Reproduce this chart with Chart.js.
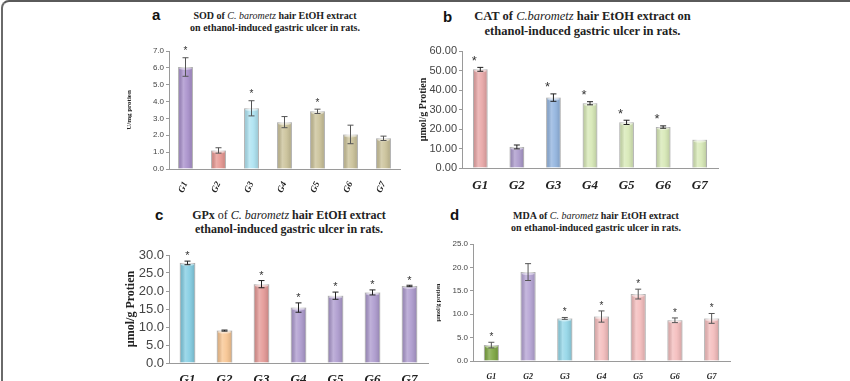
<!DOCTYPE html>
<html>
<head>
<meta charset="utf-8">
<script src="https://cdn.jsdelivr.net/npm/chart.js@4.4.0/dist/chart.umd.min.js"></script>
<style>
  html, body { margin: 0; padding: 0; background: #fff; }
  #page { position: relative; width: 850px; height: 381px; overflow: hidden; }
  #frame { position: absolute; left: 1px; top: 0; width: 900px; height: 420px;
           border-top: 2px solid #5a5a5a; border-left: 2px solid #6a6a6a; border-top-left-radius: 8px; }
  .panel { position: absolute; }
  .letter { position: absolute; font: bold 15px "Liberation Sans", Arial, sans-serif; color: #111; }
  .title { position: absolute; text-align: center; font-family: "Liberation Serif", "Times New Roman", serif;
           font-weight: bold; color: #222; white-space: nowrap; }
  .title i { font-weight: normal; }
  .title .n { font-weight: normal; }
</style>
</head>
<body>
<div id="page">
  <div id="frame"></div>

  <div class="letter" style="left:152px;top:6px;">a</div>
  <div class="title" style="left:180px;top:10px;width:190px;font-size:10px;line-height:12px;">
    SOD of <i>C. barometz</i> hair EtOH extract<br>on ethanol-induced gastric ulcer in rats.</div>
  <canvas id="chartA" class="panel" width="285" height="155" style="left:125px;top:40px;"></canvas>

  <div class="letter" style="left:443px;top:8px;">b</div>
  <div class="title" style="left:470px;top:9px;width:225px;font-size:12.5px;line-height:15px;">
    CAT of <i>C.barometz</i> hair EtOH extract on<br>ethanol-induced gastric ulcer in rats.</div>
  <canvas id="chartB" class="panel" width="306" height="150" style="left:417px;top:40px;"></canvas>

  <div class="letter" style="left:155px;top:206px;">c</div>
  <div class="title" style="left:180px;top:209px;width:218px;font-size:12px;line-height:13.5px;">
    GPx <span class="n">of</span> <i>C. barometz</i> hair EtOH extract<br>ethanol-induced gastric ulcer in rats.</div>
  <canvas id="chartC" class="panel" width="309" height="136" style="left:124px;top:245px;"></canvas>

  <div class="letter" style="left:450px;top:206px;">d</div>
  <div class="title" style="left:496px;top:210px;width:200px;font-size:10px;line-height:12px;">
    MDA of <i>C. barometz</i> hair EtOH extract<br>on ethanol-induced gastric ulcer in rats.</div>
  <canvas id="chartD" class="panel" width="300" height="147" style="left:435px;top:234px;"></canvas>
</div>

<script>
// groups on the x axis (same for all four panels)
const groups = ['G1', 'G2', 'G3', 'G4', 'G5', 'G6', 'G7'];

// a: SOD
const sodValues = [6.05, 1.10, 3.60, 2.78, 3.42, 2.05, 1.82];
const sodErrors = [0.55, 0.16, 0.45, 0.33, 0.13, 0.55, 0.13];
const sodStars = [true, false, true, false, true, false, false];

// b: CAT
const catValues = [50.6, 10.8, 36.1, 33.2, 23.4, 21.0, 14.5];
const catErrors = [1.0, 1.0, 1.9, 0.8, 1.1, 0.6, 0];
const catStars = [true, false, true, true, true, true, false];

// c: GPx
const gpxValues = [27.8, 9.0, 21.9, 15.4, 18.7, 19.6, 21.4];
const gpxErrors = [0.5, 0.15, 1.0, 1.3, 1.0, 0.7, 0.2];
const gpxStars = [true, false, true, true, true, true, true];

// d: MDA
const mdaValues = [3.4, 19.0, 9.1, 9.5, 14.3, 8.7, 9.1];
const mdaErrors = [0.6, 1.8, 0.2, 1.2, 1.05, 0.5, 1.05];
const mdaStars = [true, false, true, true, true, true, true];

// bar colours
const sodColors = ['#a68dca', '#e6948e', '#abe2f1', '#c9c096', '#c9c096', '#c9c096', '#c9c096'];
const catColors = ['#e8a4a4', '#a997ca', '#8fb2de', '#d6e8b4', '#d6e8b4', '#d6e8b4', '#d6e8b4'];
const gpxColors = ['#80cce2', '#f8c48f', '#e49693', '#ab98cd', '#ab98cd', '#ab98cd', '#ab98cd'];
const mdaColors = ['#79a33c', '#b3a1d3', '#90d5e7', '#f4bbbb', '#f4bbbb', '#f4bbbb', '#f4bbbb'];

const SANS = '"Liberation Sans", Arial, sans-serif';
const SERIF = '"Liberation Serif", "Times New Roman", serif';

// soft cylinder shading on top of each bar, then error bars and stars
const errorBarPlugin = {
  id: 'errorBars',
  afterDatasetsDraw(chart, args, o) {
    const ctx = chart.ctx;
    const y = chart.scales.y;
    const meta = chart.getDatasetMeta(0);
    const vals = chart.data.datasets[0].data;
    ctx.save();
    meta.data.forEach(bar => {
      const l = bar.x - bar.width / 2, r = bar.x + bar.width / 2;
      const g = ctx.createLinearGradient(l, 0, r, 0);
      g.addColorStop(0, 'rgba(0,0,0,0.12)');
      g.addColorStop(0.35, 'rgba(255,255,255,0.25)');
      g.addColorStop(0.6, 'rgba(255,255,255,0.1)');
      g.addColorStop(1, 'rgba(0,0,0,0.15)');
      ctx.fillStyle = g;
      ctx.fillRect(l, bar.y, bar.width, bar.base - bar.y);
      ctx.fillStyle = 'rgba(255,255,255,0.45)';
      ctx.beginPath();
      ctx.ellipse(bar.x, bar.y + 1.5, bar.width / 2 - 1, 1.5, 0, 0, Math.PI * 2);
      ctx.fill();
    });
    meta.data.forEach((bar, i) => {
      const e = o.errors[i];
      const top = y.getPixelForValue(vals[i] + e);
      const bot = y.getPixelForValue(vals[i] - e);
      if (e > 0) {
        ctx.strokeStyle = o.color;
        ctx.lineWidth = o.lineWidth;
        ctx.beginPath();
        ctx.moveTo(bar.x, top); ctx.lineTo(bar.x, bot);
        ctx.moveTo(bar.x - o.cap, top); ctx.lineTo(bar.x + o.cap, top);
        ctx.moveTo(bar.x - o.cap, bot); ctx.lineTo(bar.x + o.cap, bot);
        ctx.stroke();
      }
      if (o.stars[i]) {
        ctx.fillStyle = o.starColor;
        ctx.font = o.starSize + 'px ' + SANS;
        ctx.textAlign = 'center';
        ctx.textBaseline = 'alphabetic';
        ctx.fillText('*', bar.x + o.starDx, top - o.starGap + o.starSize * 0.57);
      }
    });
    ctx.restore();
  }
};

function makeChart(id, cfg) {
  return new Chart(document.getElementById(id), {
    type: 'bar',
    data: {
      labels: groups,
      datasets: [{
        data: cfg.values,
        backgroundColor: cfg.colors,
        borderColor: 'rgba(90,90,90,0.35)',
        borderWidth: 1,
        categoryPercentage: 1,
        barPercentage: cfg.barPct
      }]
    },
    options: {
      responsive: false,
      animation: false,
      layout: { padding: { top: cfg.padTop, right: cfg.padRight, left: 0, bottom: 0 } },
      plugins: {
        legend: { display: false },
        tooltip: { enabled: false },
        errorBars: {
          errors: cfg.errors, stars: cfg.stars, color: cfg.errColor, lineWidth: 1, cap: cfg.cap,
          starColor: '#333', starSize: cfg.starSize, starDx: cfg.starDx, starGap: cfg.starGap
        }
      },
      scales: {
        x: {
          grid: { display: false },
          border: { color: '#9a9a9a' },
          ticks: {
            color: '#222', padding: cfg.xPad, autoSkip: false,
            minRotation: cfg.rot, maxRotation: cfg.rot,
            font: { family: SERIF, size: cfg.xSize, weight: 'bold', style: 'italic' }
          },
          afterFit: s => { s.height = cfg.xHeight; }
        },
        y: {
          min: 0, max: cfg.max,
          grid: { drawOnChartArea: false, tickLength: 3, color: '#9a9a9a' },
          border: { color: '#9a9a9a' },
          ticks: {
            stepSize: cfg.step, color: '#444', padding: 2, autoSkip: false,
            font: { family: SANS, size: cfg.ySize },
            callback: v => v.toFixed(cfg.dec)
          },
          title: {
            display: true, text: cfg.yTitle, color: '#222', padding: 0,
            font: { family: SERIF, size: cfg.yTitleSize, weight: 'bold' }
          },
          afterFit: s => { s.width = cfg.yWidth; }
        }
      }
    },
    plugins: [errorBarPlugin]
  });
}

makeChart('chartA', {
  values: sodValues, errors: sodErrors, stars: sodStars, colors: sodColors,
  max: 7, step: 1, dec: 1, yTitle: 'U/mg protien', yTitleSize: 7, ySize: 8,
  xSize: 9, rot: 65, xPad: 3, xHeight: 26, yWidth: 44, padTop: 11, padRight: 10,
  barPct: 0.45, cap: 3, starSize: 10, starDx: 0, starGap: 9, errColor: '#555'
});

makeChart('chartB', {
  values: catValues, errors: catErrors, stars: catStars, colors: catColors,
  max: 60, step: 10, dec: 2, yTitle: 'µmol/g Protien', yTitleSize: 10, ySize: 11,
  xSize: 13, rot: 0, xPad: 2, xHeight: 22, yWidth: 45, padTop: 11, padRight: 5,
  barPct: 0.4, cap: 3, starSize: 13, starDx: -6, starGap: 10, errColor: '#222'
});

makeChart('chartC', {
  values: gpxValues, errors: gpxErrors, stars: gpxStars, colors: gpxColors,
  max: 30, step: 5, dec: 1, yTitle: 'µmol/g Protien', yTitleSize: 12, ySize: 13,
  xSize: 13, rot: 0, xPad: 1, xHeight: 18, yWidth: 45, padTop: 10, padRight: 5,
  barPct: 0.42, cap: 3, starSize: 11, starDx: 0, starGap: 8, errColor: '#222'
});

makeChart('chartD', {
  values: mdaValues, errors: mdaErrors, stars: mdaStars, colors: mdaColors,
  max: 25, step: 5, dec: 1, yTitle: 'µmol/g protien', yTitleSize: 6, ySize: 8,
  xSize: 8, rot: 0, xPad: 3, xHeight: 20, yWidth: 38, padTop: 10, padRight: 5,
  barPct: 0.41, cap: 3, starSize: 10, starDx: 0, starGap: 8, errColor: '#555'
});
</script>
</body>
</html>
